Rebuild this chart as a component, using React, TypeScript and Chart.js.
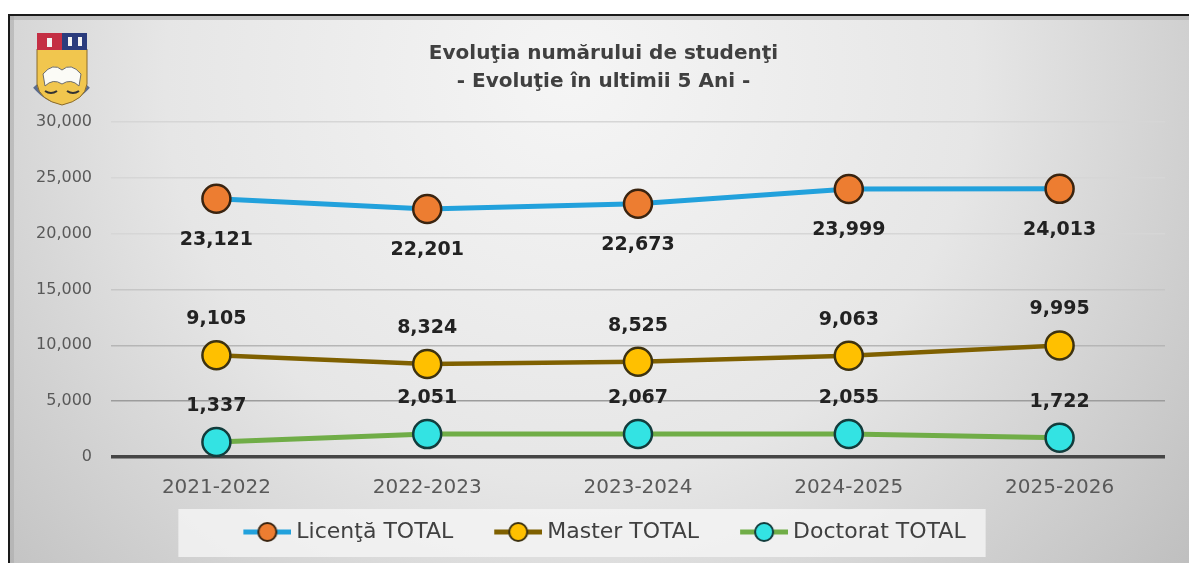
import React, { useEffect, useRef } from "react";
import { Chart, registerables } from "chart.js";

Chart.register(...registerables);

// ---- data ----
const categories = ["2021-2022", "2022-2023", "2023-2024", "2024-2025", "2025-2026"];
const licentaValues = [23121, 22201, 22673, 23999, 24013];
const masterValues = [9105, 8324, 8525, 9063, 9995];
const doctoratValues = [1337, 2051, 2067, 2055, 1722];
const seriesNames = ["Licenţă TOTAL", "Master TOTAL", "Doctorat TOTAL"];
const titleLines = ["Evoluţia numărului de studenţi", "- Evoluţie în ultimii 5 Ani -"];
const yMin = 0;
const yMax = 30000;
const yStep = 5000;

// ---- styles ----
const W = 1179;
const H = 547;
const FONT = "'DejaVu Sans', 'Noto Sans', sans-serif";
const lineColors = ["#22a1dc", "#7f6000", "#70ad47"];
const pointFills = ["#ed7d31", "#ffc000", "#33e3e3"];
const pointBorders = ["#3a2410", "#3d3210", "#123c3c"];
const lineWidths = [5, 4.5, 5];
const labelPlacement = ["below", "above", "above"];

function makeIcon(line: string, fill: string, border: string) {
  const c = document.createElement("canvas");
  c.width = 74;
  c.height = 24;
  const g = c.getContext("2d")!;
  g.strokeStyle = line;
  g.lineWidth = 5;
  g.beginPath();
  g.moveTo(26, 12);
  g.lineTo(74, 12);
  g.stroke();
  g.beginPath();
  g.arc(50, 12, 9, 0, Math.PI * 2);
  g.fillStyle = fill;
  g.fill();
  g.lineWidth = 2;
  g.strokeStyle = border;
  g.stroke();
  return c;
}

const shiftPlugin = {
  id: "shiftBoxes",
  afterLayout(chart: any) {
    if (chart.titleBlock) {
      chart.titleBlock.left += 16;
      chart.titleBlock.right += 16;
    }
    if (chart.legend) {
      chart.legend.left += 7;
      chart.legend.right += 7;
    }
  },
};

const bgPlugin = {
  id: "bg",
  beforeDraw(chart: any) {
    const ctx = chart.ctx;
    ctx.save();
    const g = ctx.createRadialGradient(560, 60, 0, 560, 60, 900);
    g.addColorStop(0, "#f5f5f5");
    g.addColorStop(0.45, "#e6e6e6");
    g.addColorStop(1, "#b4b4b4");
    ctx.fillStyle = g;
    ctx.fillRect(0, 0, chart.width, chart.height);
    // inner frame band
    ctx.fillStyle = "rgba(170,170,170,0.55)";
    ctx.fillRect(0, 0, chart.width, 4);
    ctx.fillRect(0, 0, 4, chart.height);
    // legend box
    const lg = chart.legend;
    if (lg && lg.legendHitBoxes && lg.legendHitBoxes.length) {
      const hb = lg.legendHitBoxes;
      const first = hb[0];
      const last = hb[hb.length - 1];
      const x0 = first.left - 45;
      const x1 = last.left + last.width + 20;
      const y0 = first.top - 12;
      const y1 = first.top + 36;
      ctx.fillStyle = "rgba(245,245,245,0.8)";
      ctx.fillRect(x0, y0, x1 - x0, y1 - y0);
    }
    ctx.restore();
  },
};

const labelPlugin = {
  id: "dataLabels",
  afterDatasetsDraw(chart: any) {
    const ctx = chart.ctx;
    ctx.save();
    ctx.font = `bold 19px ${FONT}`;
    ctx.fillStyle = "#222222";
    ctx.textAlign = "center";
    ctx.textBaseline = "middle";
    chart.data.datasets.forEach((ds: any, i: number) => {
      const meta = chart.getDatasetMeta(i);
      meta.data.forEach((pt: any, j: number) => {
        const v = ds.data[j] as number;
        const dy = labelPlacement[i] === "below" ? 41 : -36;
        ctx.fillText(v.toLocaleString("en-US"), pt.x, pt.y + dy);
      });
    });
    ctx.restore();
  },
};

const logoPlugin = {
  id: "logo",
  afterDraw(chart: any) {
    const ctx = chart.ctx;
    ctx.save();
    // ribbon
    ctx.strokeStyle = "#5b6c8e";
    ctx.lineWidth = 5;
    ctx.beginPath();
    ctx.moveTo(25, 70);
    ctx.quadraticCurveTo(51, 100, 78, 70);
    ctx.stroke();
    // shield
    ctx.fillStyle = "#f1c64e";
    ctx.beginPath();
    ctx.moveTo(27, 33);
    ctx.lineTo(77, 33);
    ctx.lineTo(77, 68);
    ctx.quadraticCurveTo(75, 84, 52, 89);
    ctx.quadraticCurveTo(29, 84, 27, 68);
    ctx.closePath();
    ctx.fill();
    ctx.strokeStyle = "#8a6a2a";
    ctx.lineWidth = 1;
    ctx.stroke();
    // banner
    ctx.fillStyle = "#c42f44";
    ctx.fillRect(27, 17, 25, 17);
    ctx.fillStyle = "#2b3c7d";
    ctx.fillRect(52, 17, 25, 17);
    ctx.fillStyle = "#f4f4f4";
    ctx.fillRect(37, 22, 5, 9);
    ctx.fillRect(58, 21, 4, 9);
    ctx.fillRect(68, 21, 4, 9);
    // book
    ctx.fillStyle = "#fbfbf6";
    ctx.beginPath();
    ctx.moveTo(33, 58);
    ctx.quadraticCurveTo(43, 46, 52, 54);
    ctx.quadraticCurveTo(61, 46, 71, 58);
    ctx.lineTo(69, 70);
    ctx.quadraticCurveTo(61, 62, 52, 68);
    ctx.quadraticCurveTo(43, 62, 35, 70);
    ctx.closePath();
    ctx.fill();
    ctx.strokeStyle = "#6d6d6d";
    ctx.lineWidth = 1;
    ctx.stroke();
    // scales
    ctx.strokeStyle = "#333";
    ctx.lineWidth = 2;
    ctx.beginPath();
    ctx.moveTo(35, 75);
    ctx.quadraticCurveTo(41, 79, 47, 75);
    ctx.moveTo(57, 75);
    ctx.quadraticCurveTo(63, 79, 69, 75);
    ctx.stroke();
    ctx.restore();
  },
};

export default function App() {
  const ref = useRef<HTMLCanvasElement | null>(null);

  useEffect(() => {
    document.documentElement.style.overflow = "hidden";
    const canvas = ref.current;
    if (!canvas) return;
    const icons = [0, 1, 2].map((i) => makeIcon(lineColors[i], pointFills[i], pointBorders[i]));
    const seriesValues = [licentaValues, masterValues, doctoratValues];

    const chart = new Chart(canvas, {
      type: "line",
      data: {
        labels: categories,
        datasets: seriesValues.map((vals, i) => ({
          label: seriesNames[i],
          data: vals,
          borderColor: lineColors[i],
          borderWidth: lineWidths[i],
          backgroundColor: pointFills[i],
          pointBackgroundColor: pointFills[i],
          pointBorderColor: pointBorders[i],
          pointBorderWidth: 2.5,
          pointRadius: 14,
          tension: 0,
          fill: false,
        })),
      },
      options: {
        responsive: false,
        maintainAspectRatio: false,
        animation: false,
        devicePixelRatio: 1,
        layout: { padding: { left: 0, right: 24, top: 0, bottom: 10 } },
        scales: {
          x: {
            offset: true,
            afterFit: (scale: any) => {
              scale.height = 43;
            },
            grid: { display: false, drawTicks: false },
            border: { display: false },
            ticks: {
              color: "#595959",
              font: { family: FONT, size: 20 },
              padding: 19,
              maxRotation: 0,
            },
          },
          y: {
            min: yMin,
            max: yMax,
            afterFit: (scale: any) => {
              scale.width = 101;
            },
            border: { display: false },
            grid: {
              drawTicks: false,
              color: (c: any) => {
                const v = c.tick ? c.tick.value : -1;
                if (v === 0) return "#454545";
                if (v === 5000) return "#9c9c9c";
                if (v === 10000) return "#b6b6b6";
                if (v === 15000) return "#c6c6c6";
                return "#d6d6d6";
              },
              lineWidth: (c: any) => (c.tick && c.tick.value === 0 ? 3.5 : 1.5),
            },
            ticks: {
              stepSize: yStep,
              color: "#595959",
              font: { family: FONT, size: 16 },
              padding: 19,
              callback: (v: any) => Number(v).toLocaleString("en-US"),
            },
          },
        },
        plugins: {
          tooltip: { enabled: false },
          title: {
            display: true,
            text: titleLines,
            color: "#404040",
            font: { family: FONT, size: 20, weight: "bold", lineHeight: 1.4 },
            padding: { top: 24, bottom: 26 },
          },
          legend: {
            display: true,
            position: "bottom",
            labels: {
              usePointStyle: true,
              pointStyleWidth: 62,
              padding: 21,
              color: "#404040",
              font: { family: FONT, size: 22 },
              generateLabels: (ch: any) =>
                ch.data.datasets.map((ds: any, i: number) => ({
                  text: ds.label,
                  pointStyle: icons[i],
                  fillStyle: "transparent",
                  strokeStyle: "transparent",
                  lineWidth: 0,
                  hidden: false,
                  datasetIndex: i,
                  fontColor: "#404040",
                })),
            },
          },
        },
      } as any,
      plugins: [shiftPlugin, bgPlugin, labelPlugin, logoPlugin],
    });
    return () => chart.destroy();
  }, []);

  return (
    <div
      style={{
        position: "absolute",
        left: 8,
        top: 14,
        width: W,
        height: H,
        borderTop: "2px solid #1a1a1a",
        borderLeft: "2px solid #1a1a1a",
        overflow: "hidden",
      }}
    >
      <canvas ref={ref} width={W} height={H} style={{ display: "block", width: W, height: H }} />
    </div>
  );
}
